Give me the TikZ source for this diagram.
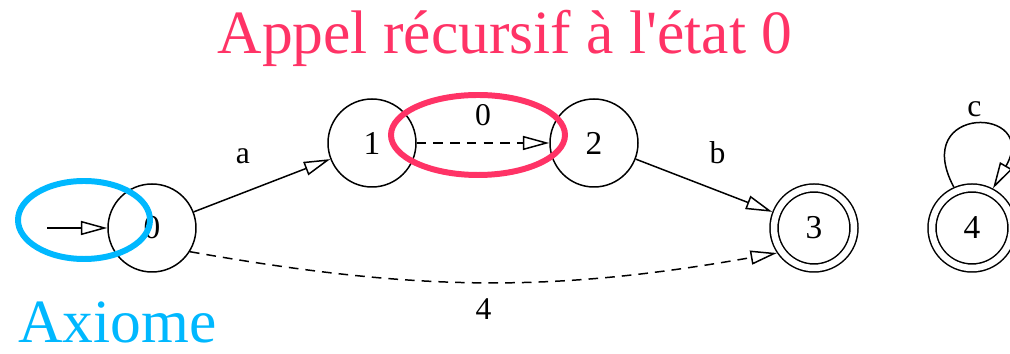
\documentclass[tikz,border=0pt]{standalone}
\usepackage{fontspec}
\setmainfont{Liberation Serif}
\usepackage{tikz}
\usetikzlibrary{calc,positioning,arrows.meta}
\usepackage{xcolor}
\definecolor{myrose}{RGB}{255,51,102}
\definecolor{mycyan}{RGB}{0,184,255}

\tikzset{
  etat/.style={draw, circle, minimum size=1.76cm, line width=0.85pt, inner sep=0pt, font=\fontsize{19}{22}\selectfont},
  final/.style={etat, minimum size=1.6cm, double, double distance=0.13cm, outer sep=0.095cm},
  fleche/.style={-{Triangle[open, length=15pt, width=8pt]}, line width=0.85pt},
  lbl/.style={font=\fontsize{18}{21}\selectfont},
}

\begin{document}
\begin{tikzpicture}
  \useasboundingbox (0,0) rectangle (20.2,7.08);

  % Etats
  \node[etat] (n0) at (3.04,2.52) {0};
  \node[etat] (n1) at (7.44,4.22) {1};
  \node[etat] (n2) at (11.88,4.22) {2};
  \node[final] (n3) at (16.28,2.52) {3};
  \node[final] (n4) at (19.44,2.52) {4};
  \coordinate (init) at (0.94,2.52);

  % Transitions
  \draw[fleche] (init) -- (n0);
  \draw[fleche] (n0) -- node[lbl, pos=0.36, above=0.45cm] {a} (n1);
  \draw[fleche, dashed, dash pattern=on 5.5pt off 4pt] (n1) -- node[lbl, midway, above=0.22cm] {0} (n2);
  \draw[fleche] (n2) -- node[lbl, pos=0.6, above=0.4cm] {b} (n3);
  \draw[fleche, dashed, dash pattern=on 5.5pt off 4pt] (n0.-32) to[out=-10, in=190]
    node[lbl, midway, below=0.2cm] {4} (n3.-146);
  \draw[fleche] (n4.114) to[out=118, in=60, distance=1.9cm]
    node[lbl, midway, above=0.05cm] {c} (n4.62);

  % Annotations
  \draw[mycyan, line width=3.4pt] (1.68,2.68) ellipse (1.32cm and 0.78cm);
  \draw[myrose, line width=3.4pt] (9.56,4.38) ellipse (1.74cm and 0.8cm);
  \node[myrose, font=\fontsize{35}{40}\selectfont] (titre) at (10.1,6.32) {Appel récursif à l\textquotesingle état 0};
  \node[mycyan, font=\fontsize{35}{40}\selectfont, anchor=west, inner sep=0pt] (axiome) at (0.36,0.64) {Axiome};
\end{tikzpicture}
\end{document}
